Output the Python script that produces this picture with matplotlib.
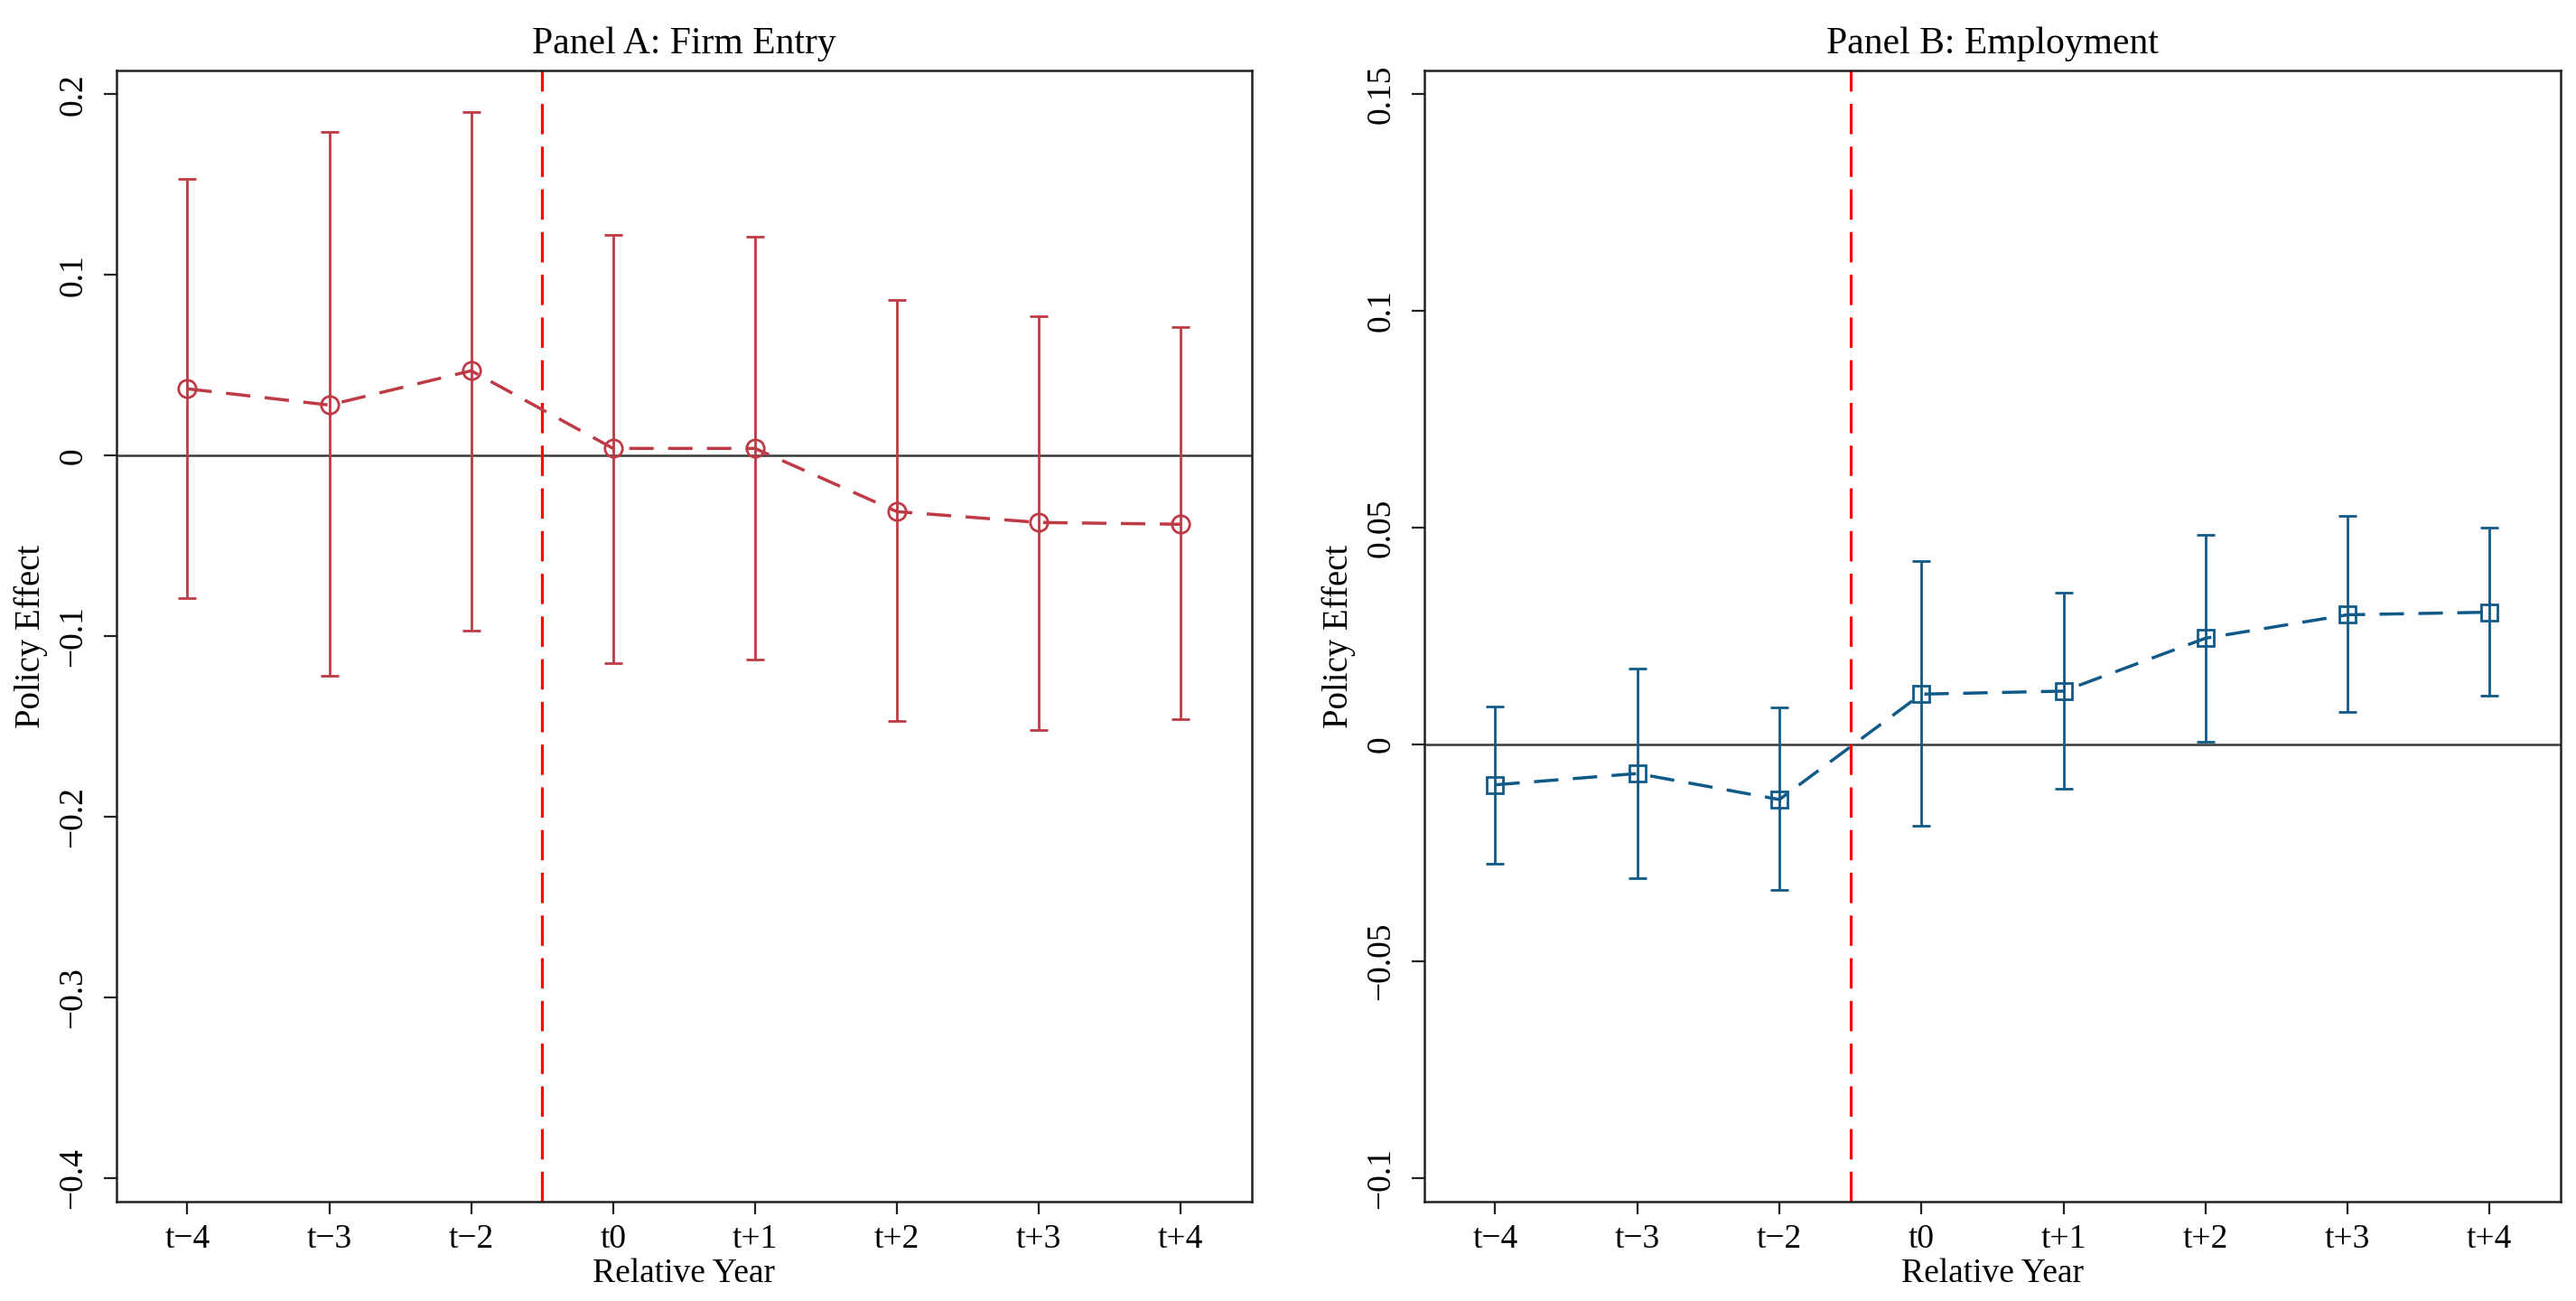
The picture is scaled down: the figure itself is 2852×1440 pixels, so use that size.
import numpy as np
import matplotlib
matplotlib.use("Agg")
import matplotlib.pyplot as plt

plt.rcParams['font.family'] = ['Liberation Serif', 'DejaVu Serif']

# etiquetas del eje x (año relativo al tratamiento)
years = ["t\u22124", "t\u22123", "t\u22122", "t0", "t+1", "t+2", "t+3", "t+4"]

# Panel A: entrada de empresas
entry_coef = [0.037, 0.028, 0.047, 0.004, 0.004, -0.031, -0.037, -0.038]
entry_hi = [0.153, 0.179, 0.190, 0.122, 0.121, 0.086, 0.077, 0.071]
entry_lo = [-0.079, -0.122, -0.097, -0.115, -0.113, -0.147, -0.152, -0.146]
entry_ticks = [-0.4, -0.3, -0.2, -0.1, 0, 0.1, 0.2]
entry_ticklabels = ["\u22120.4", "\u22120.3", "\u22120.2", "\u22120.1", "0", "0.1", "0.2"]

# Panel B: empleo
emp_coef = [-0.0093, -0.0067, -0.0127, 0.0116, 0.0123, 0.0245, 0.0299, 0.0305]
emp_hi = [0.0088, 0.0175, 0.0085, 0.0422, 0.0349, 0.0483, 0.0526, 0.0499]
emp_lo = [-0.0275, -0.0309, -0.0336, -0.0188, -0.0102, 0.0006, 0.0076, 0.0113]
emp_ticks = [-0.1, -0.05, 0, 0.05, 0.1, 0.15]
emp_ticklabels = ["\u22120.1", "\u22120.05", "0", "0.05", "0.1", "0.15"]

RED = "#BE3A45"
BLUE = "#115A88"

fig = plt.figure(figsize=(28.52, 14.40), dpi=100)
ax_a = fig.add_axes([0.0452, 0.0764, 0.4407, 0.8691])
ax_b = fig.add_axes([0.5529, 0.0764, 0.4411, 0.8691])


def panel(ax, coef, lo, hi, color, marker, msize, ticks, ticklabels, ylim, title):
    x = np.arange(len(years))
    coef = np.array(coef)
    err = [coef - np.array(lo), np.array(hi) - coef]
    ax.axhline(0, color="#3a3a3a", lw=1.8, zorder=1)
    ax.axvline(2.5, color="#FF0000", lw=2.3, dashes=(10.5, 4.3), zorder=1)
    ax.errorbar(x, coef, yerr=err, fmt="none", ecolor=color, elinewidth=2.0,
                capsize=7, capthick=2.0, zorder=2)
    ax.plot(x, coef, color=color, lw=2.5, dashes=(7.8, 4.6), marker=marker,
            markersize=msize, markerfacecolor="none", markeredgecolor=color,
            markeredgewidth=2.0, zorder=3)
    ax.set_xlim(-0.5, len(years) - 0.5)
    ax.set_ylim(*ylim)
    ax.set_xticks(x)
    ax.set_xticklabels(years)
    ax.set_yticks(ticks)
    ax.set_yticklabels(ticklabels, rotation=90, va="center")
    ax.tick_params(axis="both", length=10, width=1.6, labelsize=27, color="#222222")
    ax.tick_params(axis="y", pad=12)
    ax.tick_params(axis="x", pad=8)
    for s in ax.spines.values():
        s.set_linewidth(1.8)
        s.set_color("#222222")
    ax.set_xlabel("Relative Year", fontsize=27, labelpad=2)
    ax.set_ylabel("Policy Effect", fontsize=28, labelpad=8)
    ax.set_title(title, fontsize=30, pad=14)


panel(ax_a, entry_coef, entry_lo, entry_hi, RED, "o", 14, entry_ticks,
      entry_ticklabels, (-0.413, 0.213), "Panel A: Firm Entry")
panel(ax_b, emp_coef, emp_lo, emp_hi, BLUE, "s", 13, emp_ticks,
      emp_ticklabels, (-0.1054, 0.1553), "Panel B: Employment")

fig.savefig("out.png", dpi=100, facecolor="white")
